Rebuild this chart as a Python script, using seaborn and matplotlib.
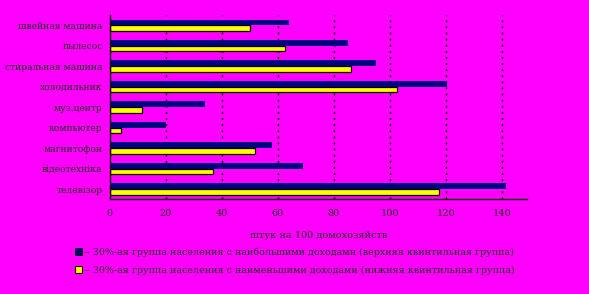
import matplotlib
matplotlib.use("Agg")
import matplotlib.pyplot as plt
import seaborn as sns
import pandas as pd
from matplotlib.patches import Patch

categories = ["швейная машина", "пылесос", "стиральная машина", "холодильник",
              "муз.центр", "компьютер", "магнитофон", "відеотехніка", "телевізор"]
top_group = [64, 85, 95, 120.5, 34, 20, 58, 69, 141.5]
bottom_group = [50, 62.5, 86, 102.5, 11.7, 4, 52, 37, 117.5]
series_names = ["– 30%-ая группа населения с наибольшими доходами (верхняя квинтильная группа)",
                "– 30%-ая группа населения с наименьшими доходами (нижняя квинтильная группа)"]
x_ticks = [0, 20, 40, 60, 80, 100, 120, 140]
x_label = "штук на 100 домохозяйств"

bg = "#FF00FF"
colors = ["#000080", "#FFFF00"]

df = pd.DataFrame({
    "cat": categories * 2,
    "val": top_group + bottom_group,
    "grp": [series_names[0]] * len(categories) + [series_names[1]] * len(categories),
})

sns.set_style("white")
plt.rcParams["font.family"] = ["DejaVu Serif"]
plt.rcParams["lines.scale_dashes"] = False

fig = plt.figure(figsize=(5.89, 2.94), dpi=100, facecolor=bg)
ax = fig.add_axes([0.186, 0.322, 0.709, 0.627])
ax.set_facecolor(bg)

sns.barplot(data=df, y="cat", x="val", hue="grp", order=categories,
            hue_order=series_names, palette=colors, orient="h",
            width=0.56, ax=ax, legend=False, saturation=1)

for patch in ax.patches:
    fc = patch.get_facecolor()
    if fc[0] > 0.9:  # yellow
        patch.set_edgecolor("black")
        patch.set_linewidth(0.9)
    else:
        patch.set_edgecolor("none")

ax.set_xlim(0, 149)
ax.set_ylim(len(categories) - 0.5, -0.5)
ax.set_xticks(x_ticks)
ax.set_xticklabels([str(t) for t in x_ticks], fontsize=7)
ax.set_yticks(range(len(categories)))
ax.set_yticklabels(categories, fontsize=6.6)
ax.tick_params(axis="y", which="major", length=0, pad=5)
ax.set_yticks([i - 0.5 for i in range(len(categories) + 1)], minor=True)
ax.tick_params(axis="y", which="minor", length=4, width=1, color="black", direction="out")
ax.tick_params(axis="x", which="major", length=6, width=1, color="black", direction="inout", pad=4)

for t in x_ticks[1:]:
    ax.axvline(t, color="black", linewidth=1.0, linestyle=(0, (1.5, 2.9)), zorder=0)

ax.set_xlabel(x_label, fontsize=7, labelpad=9)
ax.set_ylabel("")

for s in ["top", "right"]:
    ax.spines[s].set_visible(False)
for s in ["left", "bottom"]:
    ax.spines[s].set_color("black")
    ax.spines[s].set_linewidth(1.0)

handles = [Patch(facecolor=colors[0], edgecolor="black", linewidth=0.8),
           Patch(facecolor=colors[1], edgecolor="black", linewidth=0.8)]
fig.legend(handles, series_names, loc="upper left", bbox_to_anchor=(0.127, 0.158),
           frameon=False, fontsize=6.8, handlelength=0.8, handleheight=0.8,
           handletextpad=0.3, labelspacing=0.95, borderpad=0, borderaxespad=0)

fig.savefig("out.png", dpi=100, facecolor=bg)
